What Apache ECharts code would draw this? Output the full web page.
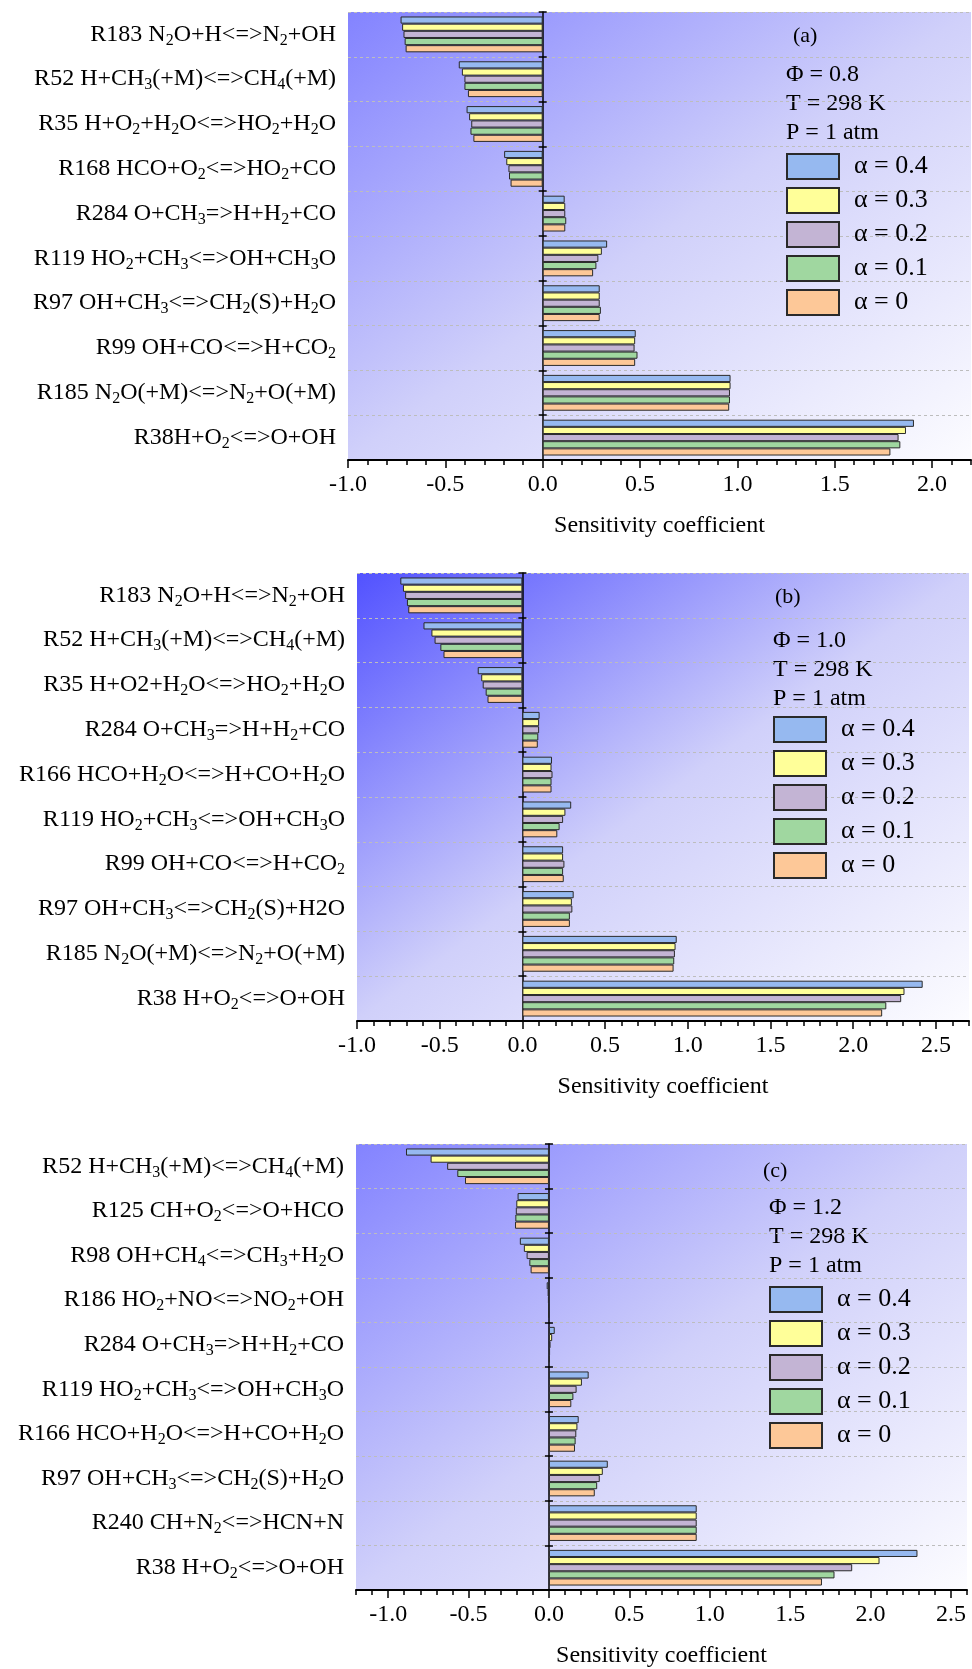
<!DOCTYPE html>
<html><head><meta charset="utf-8">
<script src="https://cdn.jsdelivr.net/npm/echarts@6/dist/echarts.min.js"></script>
<style>html,body{margin:0;padding:0;background:#fff}#c{width:972px;height:1669px}</style>
</head><body><div id="c"></div>
<script>
// ---------------- data ----------------
const seriesNames = ['α = 0.4', 'α = 0.3', 'α = 0.2', 'α = 0.1', 'α = 0'];
const seriesColors = ['#96b9f0', '#ffff99', '#c3b4d4', '#a0d7a0', '#fdc898'];

// categories, top to bottom ("_d" marks a subscript digit)
const catsA = ['R183 N_2O+H<=>N_2+OH', 'R52 H+CH_3(+M)<=>CH_4(+M)', 'R35 H+O_2+H_2O<=>HO_2+H_2O',
  'R168 HCO+O_2<=>HO_2+CO', 'R284 O+CH_3=>H+H_2+CO', 'R119 HO_2+CH_3<=>OH+CH_3O',
  'R97 OH+CH_3<=>CH_2(S)+H_2O', 'R99 OH+CO<=>H+CO_2', 'R185 N_2O(+M)<=>N_2+O(+M)', 'R38H+O_2<=>O+OH'];
const catsB = ['R183 N_2O+H<=>N_2+OH', 'R52 H+CH_3(+M)<=>CH_4(+M)', 'R35 H+O2+H_2O<=>HO_2+H_2O',
  'R284 O+CH_3=>H+H_2+CO', 'R166 HCO+H_2O<=>H+CO+H_2O', 'R119 HO_2+CH_3<=>OH+CH_3O',
  'R99 OH+CO<=>H+CO_2', 'R97 OH+CH_3<=>CH_2(S)+H2O', 'R185 N_2O(+M)<=>N_2+O(+M)', 'R38 H+O_2<=>O+OH'];
const catsC = ['R52 H+CH_3(+M)<=>CH_4(+M)', 'R125 CH+O_2<=>O+HCO', 'R98 OH+CH_4<=>CH_3+H_2O',
  'R186 HO_2+NO<=>NO_2+OH', 'R284 O+CH_3=>H+H_2+CO', 'R119 HO_2+CH_3<=>OH+CH_3O',
  'R166 HCO+H_2O<=>H+CO+H_2O', 'R97 OH+CH_3<=>CH_2(S)+H_2O', 'R240 CH+N_2<=>HCN+N', 'R38 H+O_2<=>O+OH'];

// panel (a)  Φ = 0.8
const a04 = [-0.730, -0.431, -0.391, -0.198, 0.113, 0.331, 0.293, 0.478, 0.965, 1.907];
const a03 = [-0.722, -0.415, -0.378, -0.187, 0.116, 0.304, 0.293, 0.475, 0.965, 1.866];
const a02 = [-0.715, -0.402, -0.367, -0.176, 0.116, 0.286, 0.293, 0.472, 0.962, 1.828];
const a01 = [-0.709, -0.402, -0.371, -0.173, 0.121, 0.276, 0.299, 0.487, 0.962, 1.837];
const a00 = [-0.704, -0.384, -0.356, -0.165, 0.116, 0.259, 0.293, 0.475, 0.958, 1.786];
// panel (b)  Φ = 1.0
const b04 = [-0.738, -0.598, -0.270, 0.104, 0.179, 0.295, 0.246, 0.310, 0.933, 2.420];
const b03 = [-0.722, -0.550, -0.249, 0.101, 0.176, 0.260, 0.246, 0.299, 0.926, 2.310];
const b02 = [-0.709, -0.531, -0.240, 0.101, 0.182, 0.246, 0.254, 0.302, 0.922, 2.290];
const b01 = [-0.698, -0.496, -0.222, 0.096, 0.176, 0.225, 0.246, 0.287, 0.918, 2.200];
const b00 = [-0.690, -0.477, -0.211, 0.093, 0.176, 0.211, 0.250, 0.287, 0.914, 2.175];
// panel (c)  Φ = 1.2
const c04 = [-0.889, -0.195, -0.181, -0.014, 0.036, 0.247, 0.185, 0.366, 0.919, 2.292];
const c03 = [-0.736, -0.203, -0.156, -0.008, 0.020, 0.205, 0.177, 0.335, 0.919, 2.056];
const c02 = [-0.633, -0.206, -0.139, -0.006, 0.010, 0.172, 0.170, 0.316, 0.919, 1.886];
const c01 = [-0.570, -0.209, -0.122, -0.005, 0.007, 0.152, 0.166, 0.300, 0.919, 1.776];
const c00 = [-0.522, -0.211, -0.114, -0.004, 0.005, 0.139, 0.162, 0.285, 0.919, 1.698];

// tick labels
const ticksA = [-1.0, -0.5, 0.0, 0.5, 1.0, 1.5, 2.0];
const ticksB = [-1.0, -0.5, 0.0, 0.5, 1.0, 1.5, 2.0, 2.5];
const ticksC = [-1.0, -0.5, 0.0, 0.5, 1.0, 1.5, 2.0, 2.5];

const panelTags = ['(a)', '(b)', '(c)'];
const phiValues = ['0.8', '1.0', '1.2'];
const tempText = 'T = 298 K';
const presText = 'P = 1 atm';
const axisTitle = 'Sensitivity coefficient';

// ---------------- layout ----------------
const FONT = '"Liberation Serif", "Times New Roman", serif';
const panels = [
  { cats: catsA, vals: [a04, a03, a02, a01, a00], ticks: ticksA, min: -1.0, max: 2.2,
    left: 348, top: 12, width: 623, height: 448, c0: '#8383ff',
    legLeft: 786, legTop: 153, tagX: 793, tagY: 37, infoX: 786, infoY: 104 },
  { cats: catsB, vals: [b04, b03, b02, b01, b00], ticks: ticksB, min: -1.0, max: 2.7,
    left: 357, top: 573, width: 612, height: 448, c0: '#5252ff',
    legLeft: 773, legTop: 716, tagX: 775, tagY: 598, infoX: 773, infoY: 670 },
  { cats: catsC, vals: [c04, c03, c02, c01, c00], ticks: ticksC, min: -1.2, max: 2.6,
    left: 356, top: 1144, width: 611, height: 448, c0: '#8383ff',
    legLeft: 769, legTop: 1286, tagX: 763, tagY: 1172, infoX: 769, infoY: 1237 }
];

function fmtLabel(s) { return s.replace(/_(\d)/g, '{s|$1}'); }
function tenths(min, max) {
  const out = [];
  for (let k = Math.round(min * 10); k <= Math.round(max * 10); k++) out.push(k / 10);
  return out;
}

const grid = [], xAxis = [], yAxis = [], series = [], legend = [], graphic = [];

panels.forEach((p, i) => {
  const w = p.width, h = p.height;
  const k = 2 * w * h / (w * w + h * h);
  grid.push({
    left: p.left, top: p.top, width: w, height: h, show: true, borderWidth: 0,
    backgroundColor: {
      type: 'linear', x: 0, y: 0, x2: k * h / w, y2: k * w / h,
      colorStops: [
        { offset: 0, color: p.c0 },
        { offset: 0.5, color: '#d0d0fa' },
        { offset: 1, color: '#fcfcff' }
      ]
    }
  });
  // major axis
  xAxis.push({
    type: 'value', gridIndex: i, position: 'bottom', min: p.min, max: p.max,
    name: axisTitle, nameLocation: 'middle', nameGap: 54,
    nameTextStyle: { fontFamily: FONT, fontSize: 24, color: '#000' },
    axisLine: { show: true, onZero: false, lineStyle: { color: '#000', width: 2 } },
    axisTick: { show: true, customValues: p.ticks, length: 8, lineStyle: { color: '#000', width: 1.5 } },
    axisLabel: { show: true, customValues: p.ticks, margin: 13, fontFamily: FONT, fontSize: 24, color: '#000',
      formatter: v => v.toFixed(1) },
    splitLine: { show: false }
  });
  // minor ticks
  xAxis.push({
    type: 'value', gridIndex: i, position: 'bottom', min: p.min, max: p.max,
    axisLine: { show: false, onZero: false },
    axisTick: { show: true, customValues: tenths(p.min, p.max), length: 5, lineStyle: { color: '#000', width: 1.5 } },
    axisLabel: { show: false }, splitLine: { show: false }
  });
  const catData = p.cats.map(fmtLabel);
  // label axis
  yAxis.push({
    type: 'category', gridIndex: i, position: 'left', inverse: true, data: catData,
    axisLine: { show: false, onZero: false }, axisTick: { show: false },
    axisLabel: { interval: 0, margin: 12, fontFamily: FONT, fontSize: 24, lineHeight: 28, color: '#000',
      rich: { s: { fontFamily: FONT, fontSize: 16, lineHeight: 16, padding: [12, 0, 0, 0], verticalAlign: 'bottom', color: '#000' } } },
    splitLine: { show: true, interval: 0, lineStyle: { color: '#bdbdbd', type: [3, 3], width: 1 } }
  });
  // zero line, outward ticks
  yAxis.push({
    type: 'category', gridIndex: i, position: 'left', inverse: true, data: catData,
    axisLine: { show: true, onZero: true, lineStyle: { color: '#000', width: 1.5 } },
    axisTick: { show: true, interval: 0, length: 4, lineStyle: { color: '#000', width: 1.5 } },
    axisLabel: { show: false }, splitLine: { show: false }
  });
  // zero line, inward ticks
  yAxis.push({
    type: 'category', gridIndex: i, position: 'left', inverse: true, data: catData,
    axisLine: { show: false, onZero: true },
    axisTick: { show: true, inside: true, interval: 0, length: 4, lineStyle: { color: '#000', width: 1.5 } },
    axisLabel: { show: false }, splitLine: { show: false }
  });
  p.vals.forEach((vals, j) => {
    series.push({
      type: 'bar', name: seriesNames[j], xAxisIndex: 2 * i, yAxisIndex: 3 * i,
      data: vals, barGap: '0%', barCategoryGap: '20%',
      itemStyle: { color: seriesColors[j], borderColor: '#2a2a2a', borderWidth: 1 },
      emphasis: { disabled: true }, animation: false
    });
  });
  legend.push({
    data: seriesNames, orient: 'vertical', left: p.legLeft, top: p.legTop, padding: 0,
    itemWidth: 52, itemHeight: 25, itemGap: 7, icon: 'rect', selectedMode: false,
    textStyle: { fontFamily: FONT, fontSize: 26, lineHeight: 25, color: '#000', padding: [0, 0, 0, 10] }
  });
  graphic.push({
    type: 'text', left: p.tagX, top: p.tagY - 12, silent: true,
    style: { text: panelTags[i], font: '22px ' + FONT, fill: '#000' }
  });
  graphic.push({
    type: 'text', left: p.infoX, top: p.infoY - 44, silent: true,
    style: { text: 'Φ = ' + phiValues[i] + '\n' + tempText + '\n' + presText,
      font: '24px ' + FONT, lineHeight: 29, fill: '#000' }
  });
});

const chart = echarts.init(document.getElementById('c'), null, { renderer: 'canvas' });
chart.setOption({
  animation: false, backgroundColor: '#ffffff',
  grid, xAxis, yAxis, series, legend, graphic
});
</script></body></html>
